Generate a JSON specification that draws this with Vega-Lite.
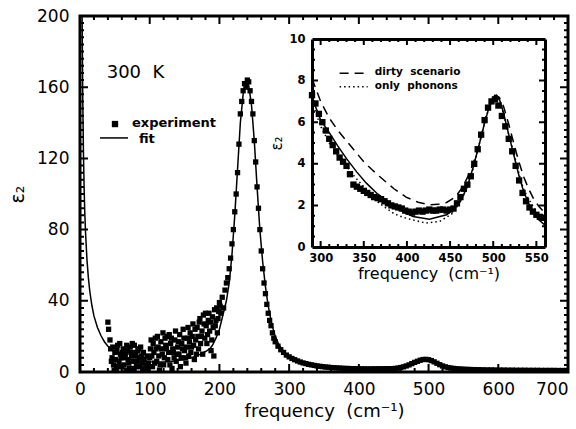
{
  "$schema": "https://vega.github.io/schema/vega-lite/v6.json",
  "width": 488,
  "height": 356,
  "autosize": {"type": "none"},
  "padding": {"left": 80, "top": 16, "right": 8, "bottom": 57},
  "background": "white",
  "config": {
    "view": {"stroke": "black", "strokeWidth": 3},
    "axis": {"grid": false, "labelColor": "black", "titleColor": "black", "domainColor": "black", "labelFont": "DejaVu Sans", "titleFont": "DejaVu Sans", "titleFontWeight": "normal"},
    "text": {"font": "DejaVu Sans", "color": "black"}
  },
  "datasets": {
    "mx_maj": [{"t": 0}, {"t": 100}, {"t": 200}, {"t": 300}, {"t": 400}, {"t": 500}, {"t": 600}, {"t": 700}],
    "mx_min": [{"t": 20}, {"t": 40}, {"t": 60}, {"t": 80}, {"t": 120}, {"t": 140}, {"t": 160}, {"t": 180}, {"t": 220}, {"t": 240}, {"t": 260}, {"t": 280},
      {"t": 320}, {"t": 340}, {"t": 360}, {"t": 380}, {"t": 420}, {"t": 440}, {"t": 460}, {"t": 480}, {"t": 520}, {"t": 540}, {"t": 560}, {"t": 580},
      {"t": 620}, {"t": 640}, {"t": 660}, {"t": 680}],
    "my_maj": [{"t": 40}, {"t": 80}, {"t": 120}, {"t": 160}],
    "my_min": [{"t": 4}, {"t": 8}, {"t": 12}, {"t": 16}, {"t": 20}, {"t": 24}, {"t": 28}, {"t": 32}, {"t": 36}, {"t": 44}, {"t": 48}, {"t": 52}, {"t": 56},
      {"t": 60}, {"t": 64}, {"t": 68}, {"t": 72}, {"t": 76}, {"t": 84}, {"t": 88}, {"t": 92}, {"t": 96}, {"t": 100}, {"t": 104}, {"t": 108}, {"t": 112},
      {"t": 116}, {"t": 124}, {"t": 128}, {"t": 132}, {"t": 136}, {"t": 140}, {"t": 144}, {"t": 148}, {"t": 152}, {"t": 156}, {"t": 164}, {"t": 168},
      {"t": 172}, {"t": 176}, {"t": 180}, {"t": 184}, {"t": 188}, {"t": 192}, {"t": 196}],
    "ix_maj": [{"t": 300}, {"t": 350}, {"t": 400}, {"t": 450}, {"t": 500}, {"t": 550}],
    "ix_min": [{"t": 310}, {"t": 320}, {"t": 330}, {"t": 340}, {"t": 360}, {"t": 370}, {"t": 380}, {"t": 390}, {"t": 410}, {"t": 420}, {"t": 430}, {"t": 440},
      {"t": 460}, {"t": 470}, {"t": 480}, {"t": 490}, {"t": 510}, {"t": 520}, {"t": 530}, {"t": 540}],
    "iy_maj": [{"t": 2}, {"t": 4}, {"t": 6}, {"t": 8}],
    "iy_min": [{"t": 0.5}, {"t": 1}, {"t": 1.5}, {"t": 2.5}, {"t": 3}, {"t": 3.5}, {"t": 4.5}, {"t": 5}, {"t": 5.5}, {"t": 6.5}, {"t": 7}, {"t": 7.5},
      {"t": 8.5}, {"t": 9}, {"t": 9.5}],
    "fit": [
      {"f": 3, "v": 200}, {"f": 4, "v": 152}, {"f": 5, "v": 122}, {"f": 6, "v": 102}, {"f": 7, "v": 88}, {"f": 8, "v": 78},
      {"f": 10, "v": 63}, {"f": 12, "v": 53}, {"f": 14, "v": 45.5}, {"f": 17, "v": 37.5}, {"f": 20, "v": 31.5}, {"f": 25, "v": 25},
      {"f": 30, "v": 20.5}, {"f": 35, "v": 17}, {"f": 40, "v": 14.5}, {"f": 50, "v": 11}, {"f": 60, "v": 8.8}, {"f": 70, "v": 7.4},
      {"f": 80, "v": 6.5}, {"f": 90, "v": 6.0}, {"f": 100, "v": 5.7}, {"f": 110, "v": 5.6}, {"f": 120, "v": 5.6}, {"f": 130, "v": 5.9},
      {"f": 140, "v": 6.4}, {"f": 150, "v": 7.0}, {"f": 160, "v": 8.0}, {"f": 170, "v": 9.5}, {"f": 180, "v": 11.5}, {"f": 186, "v": 13},
      {"f": 190, "v": 15}, {"f": 195, "v": 19}, {"f": 200, "v": 24}, {"f": 205, "v": 32}, {"f": 210, "v": 40}, {"f": 214, "v": 50},
      {"f": 218, "v": 66}, {"f": 222, "v": 88}, {"f": 226, "v": 114}, {"f": 230, "v": 140}, {"f": 234, "v": 156}, {"f": 238, "v": 163},
      {"f": 242, "v": 161}, {"f": 246, "v": 150}, {"f": 250, "v": 130}, {"f": 254, "v": 104}, {"f": 258, "v": 80}, {"f": 262, "v": 62},
      {"f": 266, "v": 48}, {"f": 270, "v": 37}, {"f": 275, "v": 27}, {"f": 280, "v": 20}, {"f": 285, "v": 15.5}, {"f": 290, "v": 12.5},
      {"f": 295, "v": 10.2}, {"f": 300, "v": 8.5}, {"f": 310, "v": 6.6}, {"f": 320, "v": 5.3}, {"f": 330, "v": 4.4}, {"f": 340, "v": 3.7},
      {"f": 350, "v": 3.1}, {"f": 365, "v": 2.5}, {"f": 380, "v": 2.0}, {"f": 400, "v": 1.6}, {"f": 420, "v": 1.4}, {"f": 440, "v": 1.5},
      {"f": 455, "v": 2.0}, {"f": 465, "v": 2.7}, {"f": 475, "v": 3.8}, {"f": 485, "v": 5.4}, {"f": 492, "v": 6.6}, {"f": 497, "v": 7.0},
      {"f": 502, "v": 6.6}, {"f": 510, "v": 5.2}, {"f": 520, "v": 3.6}, {"f": 530, "v": 2.6}, {"f": 545, "v": 1.8}, {"f": 560, "v": 1.4},
      {"f": 580, "v": 1.15}, {"f": 600, "v": 1.0}, {"f": 650, "v": 0.8}, {"f": 700, "v": 0.7}
    ],
    "exp": [
      {"f": 40, "v": 28}, {"f": 41, "v": 24}, {"f": 43, "v": 18}, {"f": 44, "v": 13}, {"f": 45, "v": 6}, {"f": 46, "v": 8}, {"f": 47, "v": 14},
      {"f": 48, "v": 4}, {"f": 49, "v": 1}, {"f": 50, "v": 11}, {"f": 51, "v": 7}, {"f": 52, "v": 2}, {"f": 53, "v": 12}, {"f": 54, "v": 15},
      {"f": 55, "v": 3}, {"f": 56, "v": 6}, {"f": 57, "v": 16}, {"f": 58, "v": 10}, {"f": 59, "v": 8}, {"f": 60, "v": 3}, {"f": 61, "v": 11},
      {"f": 62, "v": 13}, {"f": 63, "v": 4}, {"f": 64, "v": 8}, {"f": 65, "v": 10}, {"f": 66, "v": 1}, {"f": 67, "v": 15}, {"f": 68, "v": 12},
      {"f": 69, "v": 7}, {"f": 70, "v": 5}, {"f": 71, "v": 2}, {"f": 72, "v": 14}, {"f": 73, "v": 11}, {"f": 74, "v": 9}, {"f": 75, "v": 16},
      {"f": 76, "v": 2}, {"f": 77, "v": 6}, {"f": 78, "v": 15}, {"f": 79, "v": 9}, {"f": 80, "v": 11}, {"f": 81, "v": 3}, {"f": 82, "v": 6},
      {"f": 83, "v": 12}, {"f": 84, "v": 13}, {"f": 85, "v": 8}, {"f": 86, "v": 3}, {"f": 87, "v": 14}, {"f": 88, "v": 9}, {"f": 89, "v": 5},
      {"f": 90, "v": 1}, {"f": 91, "v": 11}, {"f": 92, "v": 7}, {"f": 93, "v": 2}, {"f": 95, "v": 4}, {"f": 96, "v": 9}, {"f": 97, "v": 2},
      {"f": 98, "v": 5}, {"f": 100, "v": 8}, {"f": 101, "v": 13}, {"f": 102, "v": 18}, {"f": 103, "v": 9}, {"f": 104, "v": 3}, {"f": 105, "v": 16},
      {"f": 106, "v": 11}, {"f": 107, "v": 5}, {"f": 108, "v": 19}, {"f": 109, "v": 13}, {"f": 110, "v": 6}, {"f": 111, "v": 20}, {"f": 112, "v": 14},
      {"f": 113, "v": 9}, {"f": 114, "v": 1}, {"f": 115, "v": 4}, {"f": 116, "v": 17}, {"f": 117, "v": 13}, {"f": 118, "v": 10}, {"f": 119, "v": 22},
      {"f": 120, "v": 4}, {"f": 121, "v": 8}, {"f": 122, "v": 19}, {"f": 123, "v": 15}, {"f": 124, "v": 13}, {"f": 125, "v": 20}, {"f": 126, "v": 7},
      {"f": 127, "v": 11}, {"f": 128, "v": 21}, {"f": 129, "v": 4}, {"f": 130, "v": 16}, {"f": 131, "v": 19}, {"f": 132, "v": 2}, {"f": 133, "v": 13},
      {"f": 134, "v": 11}, {"f": 135, "v": 8}, {"f": 136, "v": 18}, {"f": 137, "v": 23}, {"f": 138, "v": 6}, {"f": 139, "v": 10}, {"f": 140, "v": 14},
      {"f": 141, "v": 17}, {"f": 142, "v": 10}, {"f": 143, "v": 21}, {"f": 144, "v": 3}, {"f": 145, "v": 8}, {"f": 146, "v": 16}, {"f": 147, "v": 13},
      {"f": 148, "v": 24}, {"f": 149, "v": 19}, {"f": 150, "v": 12}, {"f": 151, "v": 8}, {"f": 152, "v": 5}, {"f": 153, "v": 14}, {"f": 154, "v": 19},
      {"f": 155, "v": 25}, {"f": 156, "v": 9}, {"f": 157, "v": 17}, {"f": 158, "v": 22}, {"f": 159, "v": 11}, {"f": 160, "v": 14}, {"f": 161, "v": 20},
      {"f": 162, "v": 27}, {"f": 163, "v": 15}, {"f": 164, "v": 7}, {"f": 165, "v": 24}, {"f": 166, "v": 18}, {"f": 167, "v": 10}, {"f": 168, "v": 25},
      {"f": 169, "v": 20}, {"f": 170, "v": 13}, {"f": 171, "v": 28}, {"f": 172, "v": 30}, {"f": 173, "v": 16}, {"f": 174, "v": 20}, {"f": 175, "v": 23},
      {"f": 176, "v": 10}, {"f": 177, "v": 32}, {"f": 178, "v": 27}, {"f": 179, "v": 19}, {"f": 180, "v": 33}, {"f": 181, "v": 26}, {"f": 182, "v": 16},
      {"f": 183, "v": 21}, {"f": 184, "v": 29}, {"f": 185, "v": 33}, {"f": 186, "v": 23}, {"f": 187, "v": 28}, {"f": 188, "v": 12}, {"f": 189, "v": 18},
      {"f": 190, "v": 31}, {"f": 191, "v": 25}, {"f": 192, "v": 9}, {"f": 193, "v": 35}, {"f": 194, "v": 26}, {"f": 195, "v": 29}, {"f": 196, "v": 36},
      {"f": 197, "v": 22}, {"f": 198, "v": 30}, {"f": 199, "v": 34}, {"f": 200, "v": 39}, {"f": 201, "v": 37}, {"f": 202, "v": 33}, {"f": 204, "v": 42},
      {"f": 206, "v": 36}, {"f": 208, "v": 46},
      {"f": 210, "v": 50}, {"f": 212, "v": 53}, {"f": 214, "v": 58}, {"f": 216, "v": 64}, {"f": 218, "v": 72}, {"f": 220, "v": 80},
      {"f": 222, "v": 90}, {"f": 224, "v": 100}, {"f": 226, "v": 112}, {"f": 228, "v": 128}, {"f": 230, "v": 145}, {"f": 232, "v": 152},
      {"f": 234, "v": 158}, {"f": 236, "v": 162}, {"f": 238, "v": 160}, {"f": 240, "v": 164}, {"f": 242, "v": 163}, {"f": 244, "v": 158},
      {"f": 246, "v": 152}, {"f": 248, "v": 145}, {"f": 250, "v": 130}, {"f": 252, "v": 118}, {"f": 254, "v": 104}, {"f": 256, "v": 92},
      {"f": 258, "v": 80}, {"f": 260, "v": 68}, {"f": 262, "v": 58}, {"f": 264, "v": 50}, {"f": 266, "v": 44}, {"f": 268, "v": 38},
      {"f": 270, "v": 33}, {"f": 272, "v": 29}, {"f": 274, "v": 26}, {"f": 276, "v": 22}, {"f": 278, "v": 19}, {"f": 280, "v": 17},
      {"f": 284, "v": 14.5}, {"f": 288, "v": 12.5}, {"f": 292, "v": 11}, {"f": 296, "v": 9.5}, {"f": 300, "v": 8.5}, {"f": 304, "v": 7.6},
      {"f": 308, "v": 6.9}, {"f": 312, "v": 6.2}, {"f": 316, "v": 5.6}, {"f": 320, "v": 5.1}, {"f": 324, "v": 4.7}, {"f": 328, "v": 4.3},
      {"f": 332, "v": 4.0}, {"f": 336, "v": 3.7}, {"f": 340, "v": 3.4}, {"f": 344, "v": 3.2}, {"f": 348, "v": 3.0}, {"f": 352, "v": 2.8},
      {"f": 356, "v": 2.7}, {"f": 360, "v": 2.5}, {"f": 364, "v": 2.4}, {"f": 368, "v": 2.3}, {"f": 372, "v": 2.2}, {"f": 376, "v": 2.1},
      {"f": 380, "v": 2.0}, {"f": 384, "v": 2.0}, {"f": 388, "v": 1.9}, {"f": 392, "v": 1.9}, {"f": 396, "v": 1.8}, {"f": 400, "v": 1.8},
      {"f": 404, "v": 1.75}, {"f": 408, "v": 1.75}, {"f": 412, "v": 1.7}, {"f": 416, "v": 1.7}, {"f": 420, "v": 1.75}, {"f": 424, "v": 1.75},
      {"f": 428, "v": 1.8}, {"f": 432, "v": 1.8}, {"f": 436, "v": 1.8}, {"f": 440, "v": 1.85}, {"f": 444, "v": 1.9}, {"f": 448, "v": 1.9},
      {"f": 452, "v": 2.0}, {"f": 456, "v": 2.2}, {"f": 460, "v": 2.5}, {"f": 464, "v": 2.9}, {"f": 468, "v": 3.4}, {"f": 472, "v": 4.0},
      {"f": 476, "v": 4.7}, {"f": 480, "v": 5.4}, {"f": 484, "v": 6.0}, {"f": 488, "v": 6.6}, {"f": 492, "v": 7.0}, {"f": 496, "v": 7.1},
      {"f": 500, "v": 6.9}, {"f": 504, "v": 6.4}, {"f": 508, "v": 5.7}, {"f": 512, "v": 4.9}, {"f": 516, "v": 4.1}, {"f": 520, "v": 3.4},
      {"f": 524, "v": 2.9}, {"f": 528, "v": 2.5}, {"f": 532, "v": 2.2}, {"f": 536, "v": 2.0}, {"f": 540, "v": 1.8}, {"f": 544, "v": 1.7},
      {"f": 548, "v": 1.6}, {"f": 552, "v": 1.5}, {"f": 556, "v": 1.45}, {"f": 560, "v": 1.4}, {"f": 566, "v": 1.35}, {"f": 572, "v": 1.3},
      {"f": 578, "v": 1.25}, {"f": 584, "v": 1.2}, {"f": 590, "v": 1.2}, {"f": 596, "v": 1.15}, {"f": 602, "v": 1.1}, {"f": 608, "v": 1.1},
      {"f": 614, "v": 1.05}, {"f": 620, "v": 1.05}, {"f": 626, "v": 1.0}, {"f": 632, "v": 1.0}, {"f": 638, "v": 1.0}, {"f": 644, "v": 0.95},
      {"f": 650, "v": 0.95}, {"f": 656, "v": 0.95}, {"f": 662, "v": 0.9}, {"f": 668, "v": 0.9}, {"f": 674, "v": 0.9}, {"f": 680, "v": 0.9},
      {"f": 686, "v": 0.85}, {"f": 692, "v": 0.85}, {"f": 698, "v": 0.85}
    ],
    "iexp": [
      {"f": 290, "v": 7.3}, {"f": 294, "v": 6.9}, {"f": 298, "v": 6.4}, {"f": 302, "v": 6.0}, {"f": 306, "v": 5.6}, {"f": 310, "v": 5.2},
      {"f": 314, "v": 4.9}, {"f": 318, "v": 4.6}, {"f": 322, "v": 4.3}, {"f": 326, "v": 4.1}, {"f": 330, "v": 3.9}, {"f": 334, "v": 3.5},
      {"f": 338, "v": 3.0}, {"f": 342, "v": 2.9}, {"f": 346, "v": 2.8}, {"f": 350, "v": 2.7}, {"f": 354, "v": 2.6}, {"f": 358, "v": 2.5},
      {"f": 362, "v": 2.4}, {"f": 366, "v": 2.35}, {"f": 370, "v": 2.3}, {"f": 374, "v": 2.2}, {"f": 378, "v": 2.1}, {"f": 382, "v": 2.0},
      {"f": 386, "v": 1.95}, {"f": 390, "v": 1.9}, {"f": 394, "v": 1.85}, {"f": 398, "v": 1.75}, {"f": 402, "v": 1.7}, {"f": 406, "v": 1.65},
      {"f": 410, "v": 1.7}, {"f": 414, "v": 1.75}, {"f": 418, "v": 1.7}, {"f": 422, "v": 1.75}, {"f": 426, "v": 1.8}, {"f": 430, "v": 1.75},
      {"f": 434, "v": 1.75}, {"f": 438, "v": 1.8}, {"f": 442, "v": 1.8}, {"f": 446, "v": 1.75}, {"f": 450, "v": 1.8}, {"f": 454, "v": 1.85},
      {"f": 458, "v": 2.1}, {"f": 462, "v": 2.4}, {"f": 466, "v": 2.8}, {"f": 470, "v": 3.0}, {"f": 474, "v": 3.4}, {"f": 478, "v": 4.0},
      {"f": 482, "v": 4.7}, {"f": 486, "v": 5.4}, {"f": 490, "v": 6.1}, {"f": 494, "v": 6.7}, {"f": 498, "v": 7.0}, {"f": 502, "v": 7.1},
      {"f": 506, "v": 6.8}, {"f": 510, "v": 6.3}, {"f": 514, "v": 5.8}, {"f": 518, "v": 5.2}, {"f": 522, "v": 4.6}, {"f": 526, "v": 3.9},
      {"f": 530, "v": 3.2}, {"f": 534, "v": 2.6}, {"f": 538, "v": 2.2}, {"f": 542, "v": 1.9}, {"f": 546, "v": 1.7}, {"f": 550, "v": 1.55},
      {"f": 554, "v": 1.45}, {"f": 558, "v": 1.4}
    ],
    "ifit": [
      {"f": 290, "v": 7.2}, {"f": 300, "v": 6.1}, {"f": 310, "v": 5.5}, {"f": 320, "v": 4.85}, {"f": 330, "v": 4.25}, {"f": 342, "v": 3.6},
      {"f": 353, "v": 3.07}, {"f": 366, "v": 2.55}, {"f": 380, "v": 2.11}, {"f": 393, "v": 1.75}, {"f": 407, "v": 1.47}, {"f": 426, "v": 1.34},
      {"f": 446, "v": 1.55}, {"f": 455, "v": 1.85}, {"f": 462, "v": 2.2}, {"f": 470, "v": 2.9}, {"f": 477, "v": 3.87}, {"f": 483, "v": 4.8},
      {"f": 489, "v": 5.8}, {"f": 495, "v": 6.7}, {"f": 500, "v": 7.15}, {"f": 504, "v": 7.3}, {"f": 508, "v": 7.0}, {"f": 512, "v": 6.43},
      {"f": 518, "v": 5.4}, {"f": 524, "v": 4.4}, {"f": 530, "v": 3.4}, {"f": 535, "v": 2.7}, {"f": 541, "v": 2.1}, {"f": 547, "v": 1.65},
      {"f": 553, "v": 1.3}, {"f": 560, "v": 1.05}
    ],
    "idirty": [
      {"f": 290, "v": 8.1}, {"f": 300, "v": 7.0}, {"f": 310, "v": 6.2}, {"f": 320, "v": 5.6}, {"f": 329, "v": 5.15}, {"f": 340, "v": 4.6},
      {"f": 350, "v": 4.1}, {"f": 360, "v": 3.7}, {"f": 368, "v": 3.4}, {"f": 385, "v": 2.8}, {"f": 399, "v": 2.4}, {"f": 413, "v": 2.15},
      {"f": 426, "v": 2.03}, {"f": 436, "v": 2.05}, {"f": 446, "v": 2.14}, {"f": 456, "v": 2.4}, {"f": 465, "v": 2.9}, {"f": 473, "v": 3.6},
      {"f": 481, "v": 4.5}, {"f": 487, "v": 5.5}, {"f": 492.5, "v": 6.4}, {"f": 497, "v": 7.0}, {"f": 502, "v": 7.3}, {"f": 507, "v": 7.2},
      {"f": 512, "v": 6.75}, {"f": 518, "v": 5.9}, {"f": 523.7, "v": 5.0}, {"f": 529, "v": 4.2}, {"f": 535, "v": 3.4}, {"f": 541, "v": 2.8},
      {"f": 547, "v": 2.3}, {"f": 553, "v": 1.95}, {"f": 560, "v": 1.63}
    ],
    "iphon": [
      {"f": 290, "v": 7.0}, {"f": 300, "v": 5.8}, {"f": 310, "v": 5.0}, {"f": 320, "v": 4.4}, {"f": 330, "v": 3.9}, {"f": 340, "v": 3.35},
      {"f": 350, "v": 2.9}, {"f": 359, "v": 2.45}, {"f": 368, "v": 2.1}, {"f": 385, "v": 1.6}, {"f": 396, "v": 1.42}, {"f": 407, "v": 1.3},
      {"f": 422, "v": 1.15}, {"f": 438, "v": 1.23}, {"f": 453.5, "v": 1.63}, {"f": 465, "v": 2.43}, {"f": 471, "v": 3.0}, {"f": 477, "v": 3.8},
      {"f": 483, "v": 4.8}, {"f": 489, "v": 5.8}, {"f": 495, "v": 6.7}, {"f": 500, "v": 7.1}, {"f": 504, "v": 7.25}, {"f": 508, "v": 7.0},
      {"f": 512, "v": 6.4}, {"f": 518, "v": 5.4}, {"f": 524, "v": 4.5}, {"f": 530, "v": 3.5}, {"f": 535, "v": 2.8}, {"f": 541, "v": 2.3},
      {"f": 547, "v": 1.9}, {"f": 553, "v": 1.5}, {"f": 560, "v": 1.2}
    ]
  },
  "layer": [
    {
      "resolve": {"axis": {"x": "independent", "y": "independent"}},
      "layer": [
        {
          "data": {"name": "fit"},
          "mark": {"type": "line", "color": "black", "strokeWidth": 1.5, "clip": true},
          "encoding": {
            "x": {"field": "f", "type": "quantitative", "scale": {"domain": [0, 700], "nice": false, "zero": false},
              "axis": {"orient": "bottom", "values": [0, 100, 200, 300, 400, 500, 600, 700], "ticks": false, "domain": false, "labelFontSize": 17, "labelPadding": 9, "labelFlush": false,
                "labelAlign": {"condition": {"test": "datum.value === 700", "value": "right"}, "value": "center"},
                "title": "frequency\u00a0\u00a0(cm⁻¹)", "titleFontSize": 18, "titlePadding": 5}},
            "y": {"field": "v", "type": "quantitative", "scale": {"domain": [0, 200], "nice": false, "zero": false},
              "axis": {"orient": "left", "values": [0, 40, 80, 120, 160, 200], "ticks": false, "domain": false, "labelFontSize": 17, "labelPadding": 11, "labelFlush": false, "title": "ε₂", "titleFontSize": 19, "titlePadding": 9}}
          }
        },
        {
          "data": {"name": "mx_maj"},
          "mark": {"type": "rule", "color": "black", "strokeWidth": 2, "strokeDash": [8, 340]},
          "encoding": {
            "x": {"field": "t", "type": "quantitative", "axis": null},
            "y": {"datum": 0, "type": "quantitative", "axis": null},
            "y2": {"datum": 200}
          }
        },
        {
          "data": {"name": "mx_min"},
          "mark": {"type": "rule", "color": "black", "strokeWidth": 2, "strokeDash": [4, 348]},
          "encoding": {
            "x": {"field": "t", "type": "quantitative", "axis": null},
            "y": {"datum": 0, "type": "quantitative", "axis": null},
            "y2": {"datum": 200}
          }
        },
        {
          "data": {"name": "my_maj"},
          "mark": {"type": "rule", "color": "black", "strokeWidth": 2, "strokeDash": [8, 472]},
          "encoding": {
            "y": {"field": "t", "type": "quantitative", "axis": null},
            "x": {"datum": 0, "type": "quantitative", "axis": null},
            "x2": {"datum": 700}
          }
        },
        {
          "data": {"name": "my_min"},
          "mark": {"type": "rule", "color": "black", "strokeWidth": 2, "strokeDash": [4, 480]},
          "encoding": {
            "y": {"field": "t", "type": "quantitative", "axis": null},
            "x": {"datum": 0, "type": "quantitative", "axis": null},
            "x2": {"datum": 700}
          }
        },
        {
          "data": {"name": "exp"},
          "mark": {"type": "point", "shape": "square", "filled": true, "color": "black", "size": 28, "opacity": 1, "clip": true},
          "encoding": {
            "x": {"field": "f", "type": "quantitative", "axis": null},
            "y": {"field": "v", "type": "quantitative", "axis": null}
          }
        },
        {
          "data": {"values": [{"f": 50.2, "v": 139.3}]},
          "mark": {"type": "point", "shape": "square", "filled": true, "color": "black", "size": 40, "opacity": 1},
          "encoding": {
            "x": {"field": "f", "type": "quantitative", "axis": null},
            "y": {"field": "v", "type": "quantitative", "axis": null}
          }
        },
        {
          "data": {"values": [{"f": 28.7, "v": 131.5}, {"f": 68.9, "v": 131.5}]},
          "mark": {"type": "line", "color": "black", "strokeWidth": 1.5},
          "encoding": {
            "x": {"field": "f", "type": "quantitative", "axis": null},
            "y": {"field": "v", "type": "quantitative", "axis": null}
          }
        },
        {
          "data": {"values": [{"f": 38.3, "v": 167.7, "t": "300\u00a0\u00a0K"}]},
          "mark": {"type": "text", "align": "left", "baseline": "middle", "fontSize": 18},
          "encoding": {
            "x": {"field": "f", "type": "quantitative", "axis": null},
            "y": {"field": "v", "type": "quantitative", "axis": null},
            "text": {"field": "t"}
          }
        },
        {
          "data": {"values": [{"f": 74.6, "v": 139.8, "t": "experiment"}, {"f": 84.6, "v": 131, "t": "fit"}]},
          "mark": {"type": "text", "align": "left", "baseline": "middle", "fontSize": 13, "fontWeight": "bold"},
          "encoding": {
            "x": {"field": "f", "type": "quantitative", "axis": null},
            "y": {"field": "v", "type": "quantitative", "axis": null},
            "text": {"field": "t"}
          }
        }
      ]
    },
    {
      "resolve": {"axis": {"x": "independent", "y": "independent"}},
      "layer": [
        {
          "data": {"name": "iexp"},
          "mark": {"type": "point", "shape": "square", "filled": true, "color": "black", "size": 40, "opacity": 1},
          "encoding": {
            "x": {"field": "f", "type": "quantitative", "scale": {"domain": [290, 560], "range": [232, 465], "nice": false, "zero": false},
              "axis": {"orient": "bottom", "offset": -125, "values": [300, 350, 400, 450, 500, 550], "ticks": false, "domain": true, "domainWidth": 3, "labelFontSize": 11.5, "labelFontWeight": "bold", "labelPadding": 5, "labelFlush": false, "title": "frequency\u00a0\u00a0(cm⁻¹)", "titleFontSize": 16, "titlePadding": 2}},
            "y": {"field": "v", "type": "quantitative", "scale": {"domain": [0, 10], "range": [231, 23], "nice": false, "zero": false},
              "axis": {"orient": "left", "offset": -232, "values": [0, 2, 4, 6, 8, 10], "ticks": false, "domain": true, "domainWidth": 3, "labelFontSize": 11.5, "labelFontWeight": "bold", "labelPadding": 7, "labelFlush": false, "title": "ε₂", "titleFontSize": 15, "titlePadding": 4}}
          }
        },
        {
          "data": {"name": "ix_maj"},
          "mark": {"type": "rule", "color": "black", "strokeWidth": 2, "strokeDash": [6, 196]},
          "encoding": {
            "x": {"field": "t", "type": "quantitative", "axis": null},
            "y": {"datum": 0, "type": "quantitative", "axis": null},
            "y2": {"datum": 10}
          }
        },
        {
          "data": {"name": "ix_min"},
          "mark": {"type": "rule", "color": "black", "strokeWidth": 2, "strokeDash": [3, 202]},
          "encoding": {
            "x": {"field": "t", "type": "quantitative", "axis": null},
            "y": {"datum": 0, "type": "quantitative", "axis": null},
            "y2": {"datum": 10}
          }
        },
        {
          "data": {"name": "iy_maj"},
          "mark": {"type": "rule", "color": "black", "strokeWidth": 2, "strokeDash": [6, 221]},
          "encoding": {
            "y": {"field": "t", "type": "quantitative", "axis": null},
            "x": {"datum": 290, "type": "quantitative", "axis": null},
            "x2": {"datum": 560}
          }
        },
        {
          "data": {"name": "iy_min"},
          "mark": {"type": "rule", "color": "black", "strokeWidth": 2, "strokeDash": [3, 227]},
          "encoding": {
            "y": {"field": "t", "type": "quantitative", "axis": null},
            "x": {"datum": 290, "type": "quantitative", "axis": null},
            "x2": {"datum": 560}
          }
        },
        {
          "data": {"name": "ifit"},
          "mark": {"type": "line", "color": "black", "strokeWidth": 1.5},
          "encoding": {
            "x": {"field": "f", "type": "quantitative", "axis": null},
            "y": {"field": "v", "type": "quantitative", "axis": null}
          }
        },
        {
          "data": {"name": "idirty"},
          "mark": {"type": "line", "color": "black", "strokeWidth": 1.5, "strokeDash": [9, 6]},
          "encoding": {
            "x": {"field": "f", "type": "quantitative", "axis": null},
            "y": {"field": "v", "type": "quantitative", "axis": null}
          }
        },
        {
          "data": {"name": "iphon"},
          "mark": {"type": "line", "color": "black", "strokeWidth": 1.5, "strokeDash": [1.5, 3]},
          "encoding": {
            "x": {"field": "f", "type": "quantitative",
              "axis": {"orient": "bottom", "offset": -333, "values": [300, 350, 400, 450, 500, 550], "ticks": false, "domain": true, "domainWidth": 3, "labels": false, "title": null}},
            "y": {"field": "v", "type": "quantitative",
              "axis": {"orient": "left", "offset": -465, "values": [0, 2, 4, 6, 8, 10], "ticks": false, "domain": true, "domainWidth": 3, "labels": false, "title": null}}
          }
        },
        {
          "data": {"values": [{"f": 322, "v": 8.35}, {"f": 354.5, "v": 8.35}]},
          "mark": {"type": "line", "color": "black", "strokeWidth": 1.5, "strokeDash": [9, 6]},
          "encoding": {
            "x": {"field": "f", "type": "quantitative", "axis": null},
            "y": {"field": "v", "type": "quantitative", "axis": null}
          }
        },
        {
          "data": {"values": [{"f": 322, "v": 7.71}, {"f": 354.5, "v": 7.71}]},
          "mark": {"type": "line", "color": "black", "strokeWidth": 1.5, "strokeDash": [1.5, 3]},
          "encoding": {
            "x": {"field": "f", "type": "quantitative", "axis": null},
            "y": {"field": "v", "type": "quantitative", "axis": null}
          }
        },
        {
          "data": {"values": [{"f": 362.7, "v": 8.4, "t": "dirty\u00a0\u00a0scenario"}, {"f": 362.7, "v": 7.75, "t": "only\u00a0\u00a0phonons"}]},
          "mark": {"type": "text", "align": "left", "baseline": "middle", "fontSize": 10.5, "fontWeight": "bold"},
          "encoding": {
            "x": {"field": "f", "type": "quantitative", "axis": null},
            "y": {"field": "v", "type": "quantitative", "axis": null},
            "text": {"field": "t"}
          }
        }
      ]
    }
  ],
  "resolve": {"scale": {"x": "independent", "y": "independent"}}
}
